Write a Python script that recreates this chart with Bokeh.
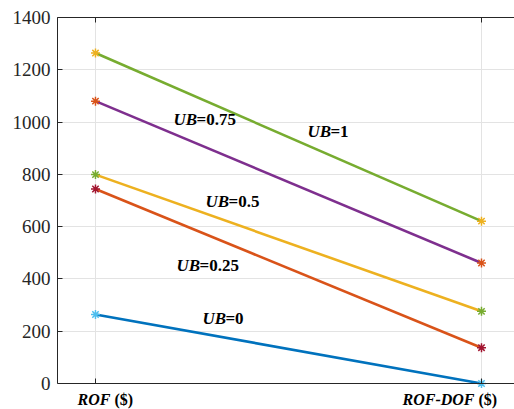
from bokeh.plotting import figure
from bokeh.models import Range1d, FixedTicker, LinearAxis
from bokeh.core.properties import value
from bokeh.embed import file_html
from bokeh.resources import INLINE

# ---- data ----
categories = ["ROF", "ROF-DOF"]
series_names = ["UB=0", "UB=0.25", "UB=0.5", "UB=0.75", "UB=1"]
rof_values = [264, 744, 799, 1080, 1264]
rofdof_values = [0, 137, 276, 461, 621]
line_colors = ["#0072BD", "#D95319", "#EDB120", "#7E2F8E", "#77AC30"]
marker_colors = ["#4DBEEE", "#A2142F", "#77AC30", "#D95319", "#EDB120"]
y_ticks = [0, 200, 400, 600, 800, 1000, 1200, 1400]

# label anchor positions (data coords, baseline-left)
label_x = [0.277, 0.21, 0.285, 0.202, 0.549]
label_y = [249, 451, 697, 1010, 964]

FONT = "Liberation Serif"
AX = "#262626"
GRID = "#E3E3E3"

y_lo = 1400 - 392 * 1400 / 366  # frame extends below 0 to hold category labels

p = figure(width=514, height=409, output_backend="svg", toolbar_location=None,
           x_range=Range1d(-0.0984, 1.0855), y_range=Range1d(y_lo, 1400),
           x_axis_location="above",
           min_border_left=57, min_border_right=0, min_border_top=17,
           min_border_bottom=0)
p.outline_line_color = None
p.background_fill_color = "white"
p.border_fill_color = "white"

xs = list(range(len(categories)))

# value-zero axis line (drawn at y=0 inside the frame), ticks pointing up
xax = p.xaxis[0]
xax.ticker = FixedTicker(ticks=xs)
xax.fixed_location = 0
xax.major_label_overrides = {0: "", 1: ""}
xax.major_label_text_font_size = "1px"
xax.major_label_standoff = 0
xax.major_tick_in = 0
xax.major_tick_out = 5

yax = p.yaxis[0]
yax.ticker = FixedTicker(ticks=y_ticks)
yax.bounds = (0, 1400)
yax.major_tick_in = 5
yax.major_tick_out = 0
yax.major_label_text_font = FONT
yax.major_label_text_font_size = "19px"
yax.major_label_text_color = AX
yax.major_label_standoff = 7

for ax in (xax, yax):
    ax.minor_tick_in = 0
    ax.minor_tick_out = 0
    ax.axis_line_color = AX
    ax.major_tick_line_color = AX

top = LinearAxis(ticker=FixedTicker(ticks=xs), major_label_overrides={0: "", 1: ""},
                 major_label_text_font_size="1px",
                 major_label_standoff=0, major_tick_in=5, major_tick_out=0,
                 minor_tick_in=0, minor_tick_out=0, axis_line_color=AX,
                 major_tick_line_color=AX)
p.add_layout(top, "above")

p.xgrid.visible = False
p.ygrid.ticker = FixedTicker(ticks=y_ticks)
p.ygrid.grid_line_color = GRID
p.ygrid.grid_line_width = 1

# vertical grid lines at the categories, spanning the value axis only
p.segment(x0=xs, x1=xs, y0=[y_ticks[0]] * len(xs), y1=[y_ticks[-1]] * len(xs),
          line_color=GRID, line_width=1)

for i in range(len(series_names)):
    ys = [rof_values[i], rofdof_values[i]]
    p.line(xs, ys, line_color=line_colors[i], line_width=2.6)
    p.scatter(xs, ys, marker="asterisk", size=9, line_color=marker_colors[i],
              line_width=1.5)

# in-plot series labels: italic "UB" + bold "=value"
for i, name in enumerate(series_names):
    rest = name[2:]
    p.text(x=[label_x[i]], y=[label_y[i]], text=["UB"], text_font=value(FONT),
           text_font_size="17px", text_font_style="bold italic",
           text_baseline="alphabetic", text_align="left", text_color="black")
    p.text(x=[label_x[i]], y=[label_y[i]], text=[rest], text_font=value(FONT),
           text_font_size="17px", text_font_style="bold", x_offset=23,
           text_baseline="alphabetic", text_align="left", text_color="black")

# category labels: bold italic name + bold "($)"
name_offsets = [-18, -79]
unit_offsets = [19, -3]
for i, cat in enumerate(categories):
    p.text(x=[xs[i]], y=[0], text=[cat], x_offset=name_offsets[i], y_offset=16,
           text_font=value(FONT), text_font_size="16px",
           text_font_style="bold italic", text_baseline="alphabetic",
           text_align="left", text_color="black")
    p.text(x=[xs[i]], y=[0], text=["($)"], x_offset=unit_offsets[i], y_offset=16,
           text_font=value(FONT), text_font_size="16px",
           text_font_style="bold", text_baseline="alphabetic",
           text_align="left", text_color="black")

open("out.html", "w").write(file_html(p, INLINE))
